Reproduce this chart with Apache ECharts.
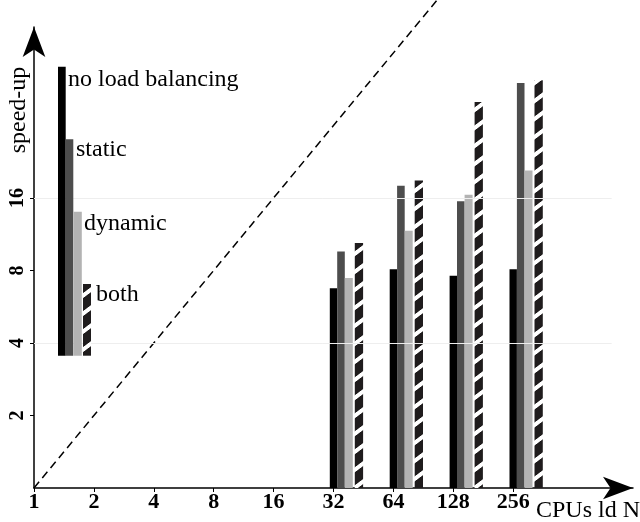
<!DOCTYPE html>
<html>
<head>
<meta charset="utf-8">
<script src="https://cdn.jsdelivr.net/npm/echarts@6/dist/echarts.min.js"></script>
<style>
  html, body { margin: 0; padding: 0; background: #fff; }
  #chart { width: 640px; height: 522px; }
</style>
</head>
<body>
<div id="chart"></div>
<script>
// data
const cpus = [32, 64, 128, 256];
const noLoadBalancing = [6.75, 8.1, 7.6, 8.1];
const staticLB = [9.6, 18.0, 15.5, 48];
const dynamicLB = [7.45, 11.7, 16.5, 20.8];
const bothLB = [10.4, 18.9, 40, 49.3];
const seriesNames = ['no load balancing', 'static', 'dynamic', 'both'];
const xTicks = [1, 2, 4, 8, 16, 32, 64, 128, 256];
const yTicks = [2, 4, 8, 16];
const idealLine = [[1, 1], [128, 128]];
const gridValues = [4, 16];

const FONT = 'Liberation Serif';

// striped fill for "both"
function makeHatch() {
  const c = document.createElement('canvas');
  c.width = 24; c.height = 18;
  const ctx = c.getContext('2d');
  ctx.fillStyle = '#fff';
  ctx.fillRect(0, 0, 24, 18);
  ctx.fillStyle = '#1f1c1d';
  for (let x = 0; x < 24; x++) {
    const y0 = ((-0.75 * x) % 18 + 18) % 18;
    ctx.fillRect(x, y0, 1, 13);
    if (y0 + 13 > 18) ctx.fillRect(x, y0 - 18, 1, 13);
  }
  return c;
}
const hatch = { image: makeHatch(), repeat: 'repeat' };

const fills = ['#000000', '#4d4d4d', '#b3b3b3', hatch];
// pixel offset of each bar from the x position, and bar width
const offsets = [-3.7, 3.7, 11.3, 21.3];
const widths = [7.4, 7.6, 8, 8.3];

function barSeries(idx, values) {
  return {
    name: seriesNames[idx],
    type: 'custom',
    z: 3,
    data: cpus.map((c, i) => [c, values[i]]),
    encode: { x: 0, y: 1 },
    renderItem: function (params, api) {
      const top = api.coord([api.value(0), api.value(1)]);
      const base = api.coord([api.value(0), 1]);
      return {
        type: 'rect',
        shape: {
          x: top[0] + offsets[idx],
          y: top[1],
          width: widths[idx],
          height: base[1] - top[1]
        },
        style: { fill: fills[idx] }
      };
    }
  };
}

const chart = echarts.init(document.getElementById('chart'), null, { renderer: 'canvas' });

// legend drawn as stepped bars like the original
const legendBars = [
  { x: 58, w: 7.7, top: 66.7 },
  { x: 65.7, w: 7.6, top: 139.3 },
  { x: 73.6, w: 8.2, top: 211.7 },
  { x: 83, w: 8, top: 284 }
];
const legendLabels = [
  { x: 68, y: 80 },
  { x: 76, y: 150 },
  { x: 84, y: 224 },
  { x: 96, y: 295 }
];
const legendBottom = 355.7;
const graphic = [];
legendBars.forEach((b, i) => {
  graphic.push({
    type: 'rect', z: 10,
    shape: { x: b.x, y: b.top, width: b.w, height: legendBottom - b.top },
    style: { fill: fills[i] }
  });
  graphic.push({
    type: 'text', z: 10,
    x: legendLabels[i].x, y: legendLabels[i].y,
    style: {
      text: seriesNames[i], font: '24px "' + FONT + '"',
      fill: '#000', textVerticalAlign: 'middle'
    }
  });
});
graphic.push({
  type: 'text', z: 10,
  x: 19, y: 110, rotation: Math.PI / 2,
  style: {
    text: 'speed-up', font: '24px "' + FONT + '"', fill: '#000',
    textAlign: 'center', textVerticalAlign: 'middle'
  }
});
graphic.push({
  type: 'text', z: 10,
  x: 536, y: 511,
  style: {
    text: 'CPUs ld N', font: '24px "' + FONT + '"', fill: '#000',
    textAlign: 'left', textVerticalAlign: 'middle'
  }
});

const axisLine = {
  show: true,
  symbol: ['none', 'arrow'],
  symbolSize: [17, 30],
  lineStyle: { color: '#000', width: 1.5 }
};

chart.setOption({
  animation: false,
  backgroundColor: '#fff',
  grid: { left: 34, right: 7, top: 27, bottom: 34, outerBoundsMode: 'none' },
  xAxis: {
    type: 'log', logBase: 2, min: 1, max: 1024,
    axisLine: axisLine,
    axisTick: { show: true, length: 4, customValues: xTicks, lineStyle: { color: '#000' } },
    axisLabel: {
      customValues: xTicks, margin: 3,
      fontFamily: FONT, fontSize: 22, fontWeight: 'bold', color: '#000'
    },
    splitLine: { show: false }
  },
  yAxis: {
    type: 'log', logBase: 2, min: 1, max: 82,
    axisLine: axisLine,
    axisTick: { show: true, length: 4, customValues: yTicks, lineStyle: { color: '#000' } },
    axisLabel: {
      customValues: yTicks, margin: 6, rotate: 90,
      fontFamily: FONT, fontSize: 20, fontWeight: 'bold', color: '#000'
    },
    splitLine: { show: false }
  },
  graphic: graphic,
  series: [
    {
      type: 'line',
      z: 1,
      data: idealLine,
      showSymbol: false,
      clip: false,
      silent: true,
      lineStyle: { color: '#000', width: 1.5, type: [8, 5] },
      markLine: {
        silent: true,
        symbol: 'none',
        label: { show: false },
        lineStyle: { color: '#eeeeee', type: 'solid', width: 1 },
        data: gridValues.map(v => [{ coord: [1, v] }, { coord: [800, v] }])
      }
    },
    barSeries(0, noLoadBalancing),
    barSeries(1, staticLB),
    barSeries(2, dynamicLB),
    barSeries(3, bothLB)
  ]
});
</script>
</body>
</html>
